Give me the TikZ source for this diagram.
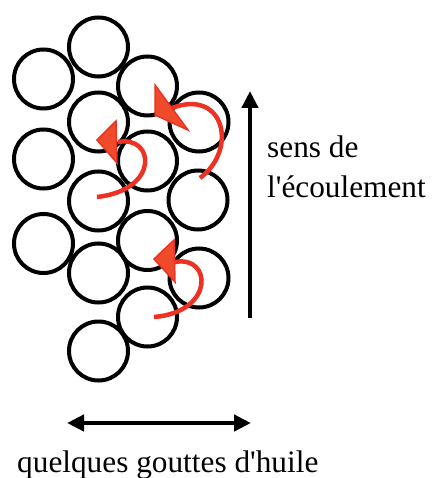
\documentclass[tikz,border=0pt]{standalone}
\usepackage{fontspec}
\setmainfont{Liberation Serif}
\usetikzlibrary{arrows.meta}
\definecolor{redline}{RGB}{237,50,36}
\definecolor{headfill}{RGB}{239,74,42}
\begin{document}
\begin{tikzpicture}[x=1pt,y=-1pt,
  drop/.style={circle,draw=black,line width=4pt,minimum size=59pt,inner sep=0pt},
  flow/.style={draw=redline,line width=4.5pt},
  flowhead/.style={fill=headfill,draw=redline,line width=1.5pt,line join=miter},
  bigarrow/.style={line width=4.5pt,-{Triangle[length=17pt,width=16pt]}},
  lbl/.style={anchor=base west,inner sep=0pt,font=\fontsize{31.3}{37}\selectfont}]
\useasboundingbox (0,0) rectangle (431,478);
% column 1
\node[drop] (c1) at (43.5,79) {};
\node[drop] (c2) at (43.5,159) {};
\node[drop] (c3) at (43.5,243.5) {};
% column 2
\node[drop] (c4) at (98.5,47) {};
\node[drop] (c5) at (98.5,122) {};
\node[drop] (c6) at (98.5,201) {};
\node[drop] (c7) at (98.5,273) {};
\node[drop] (c8) at (98.5,351) {};
% column 3
\node[drop] (c9) at (147.5,86) {};
\node[drop] (c10) at (147.5,161) {};
\node[drop] (c11) at (147.5,240.5) {};
\node[drop] (c12) at (147.5,317) {};
% column 4
\node[drop] (c13) at (199,122) {};
\node[drop] (c14) at (198,200) {};
\node[drop] (c15) at (199,278) {};
% red swirl arrows
\draw[flow] (200,178) .. controls (238,150) and (225,88) .. (172,108);
\draw[flowhead] (155,85) -- (188,130) -- (155,115) -- cycle;
\draw[flow] (97,197) .. controls (160,190) and (155,135) .. (118,142);
\draw[flowhead] (116,121) -- (117,163) -- (97,140) -- cycle;
\draw[flow] (154,317) .. controls (215,312) and (212,255) .. (175,262);
\draw[flowhead] (174,240) -- (175,282) -- (154,259) -- cycle;
% flow direction arrow
\coordinate (vb) at (250,318);
\coordinate (vt) at (250,91);
\draw[bigarrow] (vb) -- (vt);
\node[lbl] (t1) at (267,158) {sens de};
\node[lbl] (t2) at (267,197) {l\textquotesingle écoulement};
% width arrow
\coordinate (hl) at (67,423);
\coordinate (hr) at (251,423);
\draw[line width=4.5pt,{Triangle[length=17pt,width=16pt]}-{Triangle[length=17pt,width=16pt]}] (hl) -- (hr);
\node[lbl] (t3) at (17,472) {quelques gouttes d\textquotesingle huile};
\end{tikzpicture}
\end{document}
